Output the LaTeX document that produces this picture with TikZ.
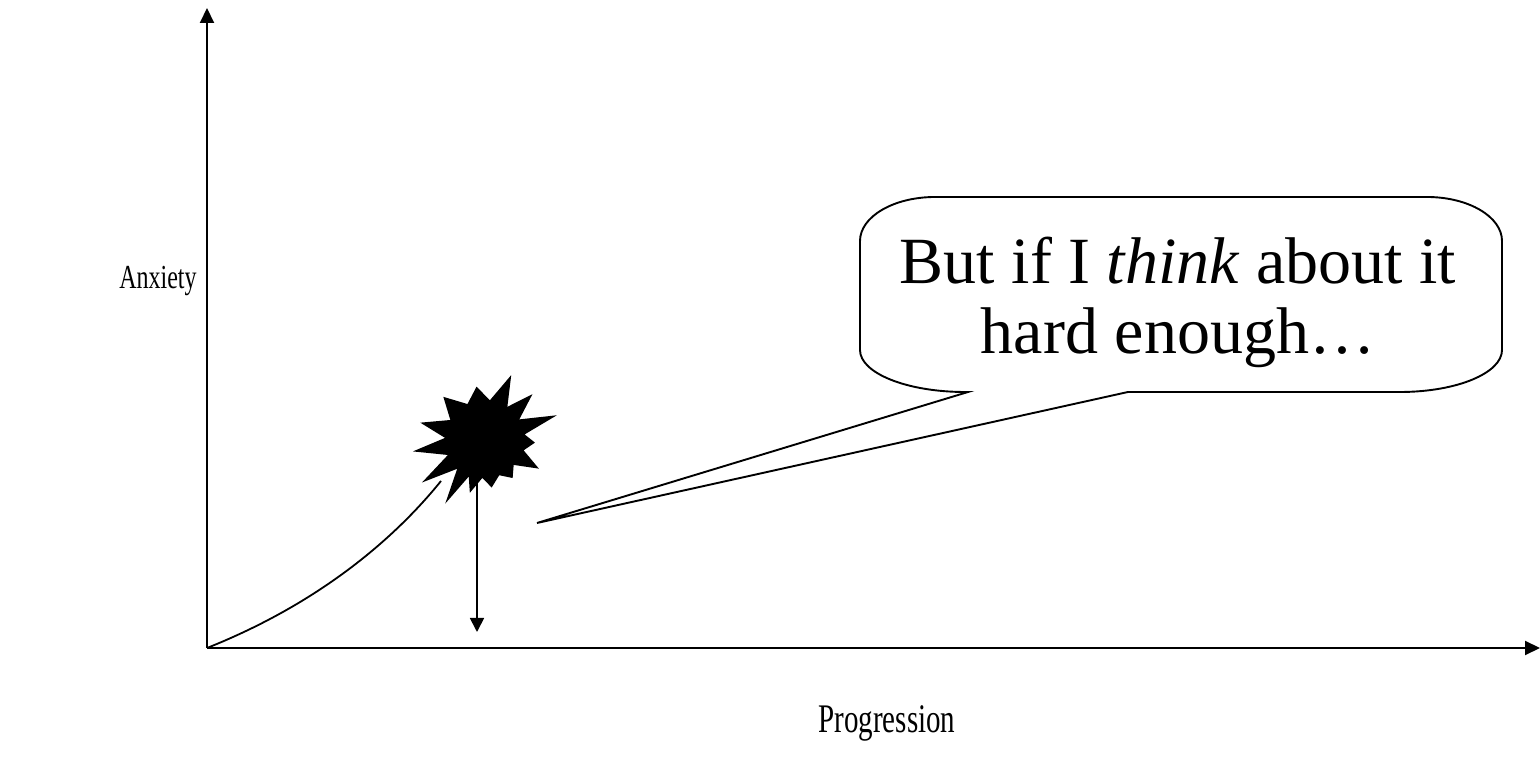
\documentclass[tikz,border=0pt]{standalone}
\usepackage{fontspec}
\setmainfont{Liberation Serif}
\usepackage{tikz}
\usetikzlibrary{arrows.meta,positioning}
\tikzset{
  axisline/.style={line width=2pt,-{Triangle[length=15pt,width=14pt]}},
  dropline/.style={line width=1.8pt,-{Triangle[length=14pt,width=14pt]}},
  riseline/.style={line width=1.8pt},
  bubble/.style={line width=1.9pt,draw,fill=white,line join=miter},
  burstfill/.style={fill=black},
  axislabel/.style={inner sep=0pt},
}
\newcommand{\tall}[1]{\scalebox{1}[1.4]{#1}}

\begin{document}
\begin{tikzpicture}[x=1pt,y=1pt]
\useasboundingbox (0,0) rectangle (1540,763);
\coordinate (origin) at (207,115);
\coordinate (ytip) at (207,755);
\coordinate (xtip) at (1540,115);
\coordinate (rise) at (441,282);
\coordinate (burst) at (485,323);
\coordinate (dropstart) at (477,323);
\coordinate (drop) at (477,131);
\coordinate (tail) at (537,240);
% axes
\draw[axisline] (origin) -- (ytip);
\draw[axisline] (origin) -- (xtip);
\node[axislabel,font=\fontsize{24}{28}\selectfont] (anx) at (158,482) {\tall{Anxiety}};
\node[axislabel,font=\fontsize{29}{34}\selectfont] (prog) at (887,40) {\tall{Progression}};
% curve into the burst
\draw[riseline] (origin) .. controls (320,160) and (395,225) .. (rise);
\draw[dropline] (dropstart) -- (drop);
\begin{scope}[shift={(burst)}]
\fill[burstfill] (68:70) -- (56:40) -- (44:66) -- (31:40) -- (19:76) -- (8:40)
  -- (-3:50) -- (-15:40) -- (-28:61) -- (-41:38) -- (-54:47) -- (-68:38)
  -- (-82:48) -- (-94:38) -- (-106:55) -- (-114:40) -- (-122:75) -- (-134:40)
  -- (-146:76) -- (-158:40) -- (-171:73) -- (177:40) -- (165:67) -- (150:40)
  -- (134:60) -- (116:40) -- (99:54) -- (83:40) -- cycle;
\end{scope}
% callout
\draw[bubble] (968,371) -- (tail) -- (1128,371) -- (1400,371)
  arc[start angle=-90,end angle=0,x radius=102,y radius=42] -- (1502,522)
  arc[start angle=0,end angle=90,x radius=75,y radius=44] -- (935,566)
  arc[start angle=90,end angle=180,x radius=75,y radius=44] -- (860,413)
  arc[start angle=180,end angle=270,x radius=105,y radius=42] -- cycle;
\node[align=center,font=\fontsize{66}{70}\selectfont] (thought) at (1178,461)
  {But if I \textit{think} about it\\hard enough…};
\end{tikzpicture}
\end{document}
